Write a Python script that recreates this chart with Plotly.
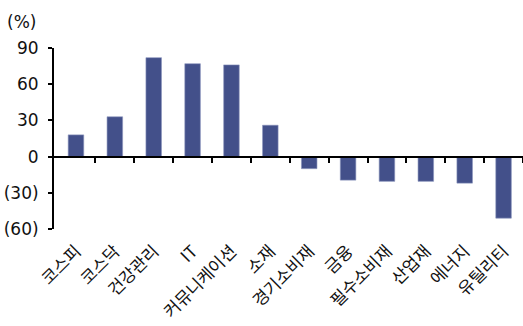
import plotly.graph_objects as go

# Sector returns (%)
sectors = ["코스피", "코스닥", "건강관리", "IT", "커뮤니케이션", "소재",
           "경기소비재", "금융", "필수소비재", "산업재", "에너지", "유틸리티"]
returns = [18, 33, 82, 77, 76, 26, -10, -19.5, -20.5, -20.5, -22, -51]

y_ticks = [90, 60, 30, 0, -30, -60]
y_tick_text = ["90", "60", "30", "0", "(30)", "(60)"]

bar_color = "#43508A"
ymin, ymax = -60, 90
xrange_ = [-0.565, 11.5]

fig = go.Figure()
fig.add_trace(go.Bar(
    x=list(range(len(sectors))), y=returns,
    marker=dict(color=bar_color, line=dict(color="#8A93BC", width=0.6)),
    width=0.4,
))

fig.update_layout(
    width=523, height=326,
    margin=dict(l=54, r=0, t=48, b=97),
    paper_bgcolor="white", plot_bgcolor="white",
    showlegend=False,
    font=dict(family="DejaVu Sans", size=17, color="#111111"),
    xaxis=dict(
        range=xrange_,
        tickmode="array",
        tickvals=list(range(len(sectors))),
        ticktext=sectors,
        tickangle=-45,
        ticklabelstandoff=8,
        tickfont=dict(family="Noto Sans CJK KR", size=17, color="#111111"),
        ticks="", showline=False, showgrid=False, zeroline=False,
    ),
    # second x axis drawn along y = 0 with boundary ticks
    xaxis2=dict(
        overlaying="x", anchor="free",
        position=(0 - ymin) / (ymax - ymin),
        range=xrange_,
        tickmode="array",
        tickvals=[i + 0.5 for i in range(len(sectors))],
        showticklabels=False,
        ticks="outside", ticklen=5, tickwidth=2, tickcolor="black",
        showline=True, linecolor="black", linewidth=2,
        showgrid=False, zeroline=False,
    ),
    yaxis=dict(
        range=[ymin, ymax],
        tickmode="array", tickvals=y_ticks, ticktext=y_tick_text,
        ticks="outside", ticklen=4, tickwidth=2, tickcolor="black",
        ticklabelstandoff=6,
        showline=True, linecolor="black", linewidth=2,
        showgrid=False, zeroline=False,
        tickfont=dict(family="DejaVu Sans", size=17, color="#111111"),
    ),
    annotations=[dict(
        text="(%)", xref="paper", yref="paper", x=-0.105, y=1.0,
        yshift=38, xanchor="left", yanchor="top", showarrow=False,
        font=dict(family="DejaVu Sans", size=17, color="#111111"),
    )],
)
# invisible point so the overlay axis is rendered
fig.add_trace(go.Scatter(x=[0], y=[0], xaxis="x2", mode="markers",
                         marker=dict(opacity=0), hoverinfo="skip"))

fig.write_html("out.html")
